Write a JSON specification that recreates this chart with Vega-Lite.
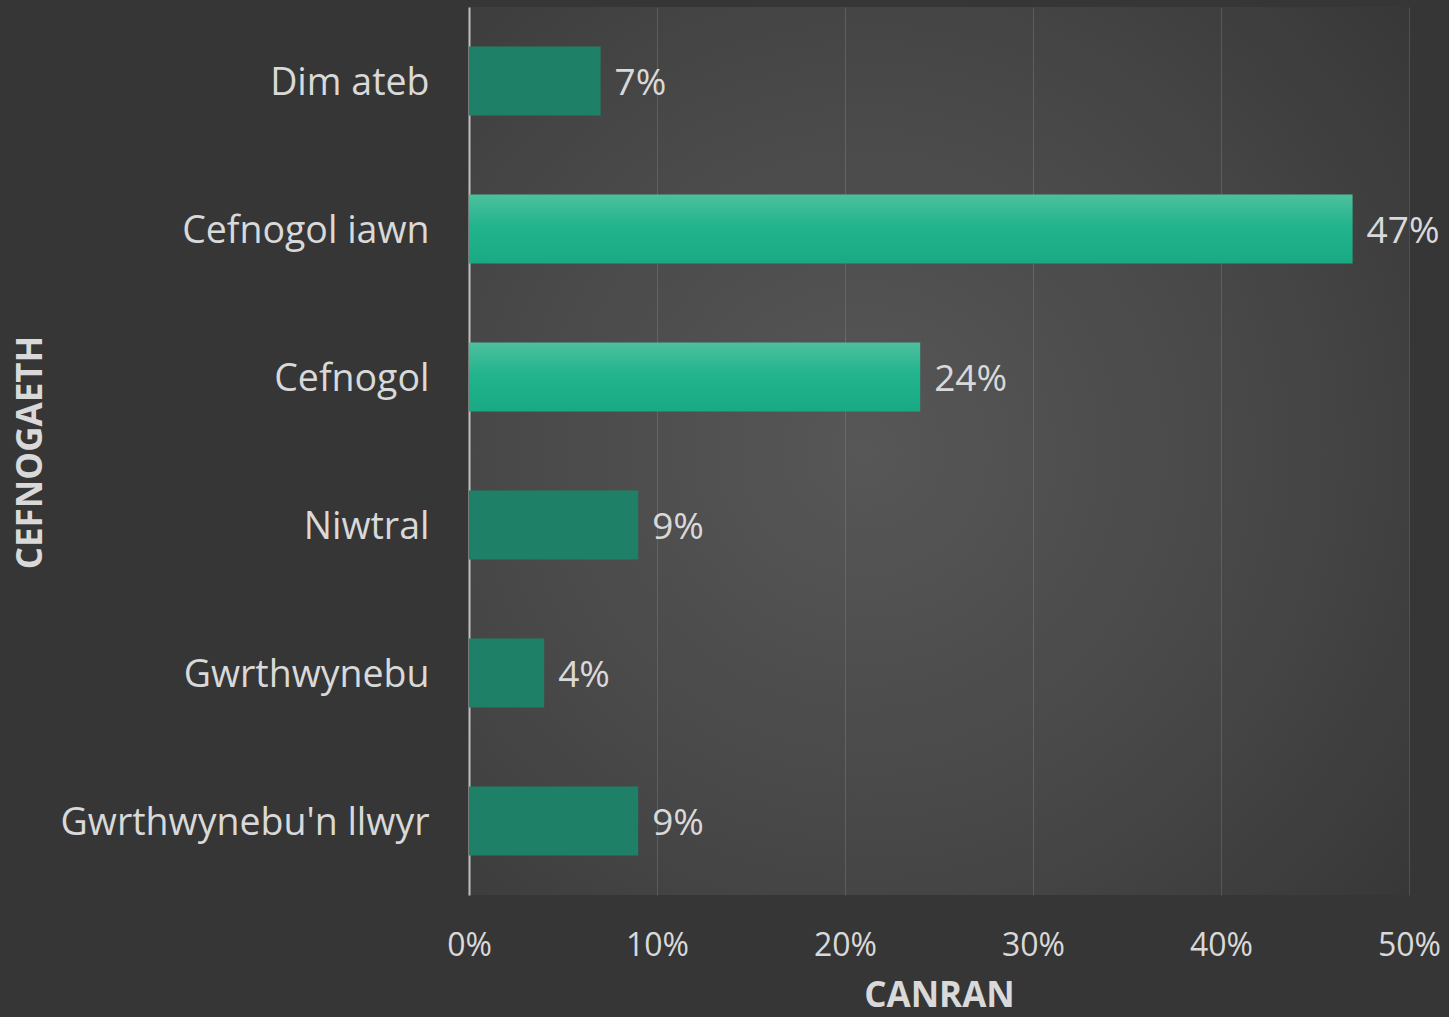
{
  "$schema": "https://vega.github.io/schema/vega-lite/v6.json",
  "width": 940,
  "height": 888,
  "autosize": {"type": "none"},
  "padding": {"left": 469, "top": 7, "right": 40, "bottom": 122},
  "background": "#363636",
  "config": {
    "font": "Open Sans",
    "view": {
      "stroke": null,
      "fill": {
        "gradient": "radial",
        "x1": 0.42, "y1": 0.5, "r1": 0,
        "x2": 0.42, "y2": 0.5, "r2": 0.78,
        "stops": [
          {"offset": 0, "color": "#575757"},
          {"offset": 0.55, "color": "#474747"},
          {"offset": 1, "color": "#363636"}
        ]
      }
    }
  },
  "data": {
    "values": [
      {"cat": "Dim ateb", "value": 0.07, "hl": false},
      {"cat": "Cefnogol iawn", "value": 0.47, "hl": true},
      {"cat": "Cefnogol", "value": 0.24, "hl": true},
      {"cat": "Niwtral", "value": 0.09, "hl": false},
      {"cat": "Gwrthwynebu", "value": 0.04, "hl": false},
      {"cat": "Gwrthwynebu'n llwyr", "value": 0.09, "hl": false}
    ]
  },
  "encoding": {
    "y": {
      "field": "cat",
      "type": "nominal",
      "sort": ["Dim ateb", "Cefnogol iawn", "Cefnogol", "Niwtral", "Gwrthwynebu", "Gwrthwynebu'n llwyr"],
      "scale": {"paddingInner": 0.534, "paddingOuter": 0.267},
      "axis": {
        "title": "CEFNOGAETH",
        "titleFont": "Open Sans",
        "titleFontSize": 35,
        "titleFontWeight": "bold",
        "titleColor": "#d9d9d9",
        "titleAngle": 270,
        "titleBaseline": "middle",
        "titleX": -439,
        "titleY": 445,
        "labelFont": "Open Sans",
        "labelFontSize": 37.5,
        "labelColor": "#d9d9d9",
        "labelPadding": 40,
        "labelOffset": 3,
        "ticks": false,
        "domain": true,
        "domainColor": "#bfbfbf",
        "domainWidth": 2,
        "grid": false,
        "labelLimit": 500
      }
    },
    "x": {
      "field": "value",
      "type": "quantitative",
      "scale": {"domain": [0, 0.5]},
      "axis": {
        "title": "CANRAN",
        "titleFont": "Open Sans",
        "titleFontSize": 35,
        "titleFontWeight": "bold",
        "titleColor": "#d9d9d9",
        "titleBaseline": "alphabetic",
        "titleY": 111,
        "format": ".0%",
        "values": [0, 0.1, 0.2, 0.3, 0.4, 0.5],
        "labelFlush": false,
        "labelFont": "Open Sans",
        "labelFontSize": 32,
        "labelColor": "#d9d9d9",
        "labelPadding": 35,
        "ticks": false,
        "domain": false,
        "grid": true,
        "gridColor": "#ffffff",
        "gridOpacity": 0.13,
        "gridWidth": 1
      }
    }
  },
  "layer": [
    {
      "transform": [{"filter": "!datum.hl"}],
      "mark": {"type": "bar", "fill": "#1f8068"}
    },
    {
      "transform": [{"filter": "datum.hl"}],
      "mark": {
        "type": "bar",
        "fill": {
          "gradient": "linear",
          "x1": 0, "y1": 0, "x2": 0, "y2": 1,
          "stops": [
            {"offset": 0, "color": "#4dc09e"},
            {"offset": 0.45, "color": "#22b48d"},
            {"offset": 1, "color": "#19aa84"}
          ]
        }
      }
    },
    {
      "mark": {
        "type": "text",
        "align": "left",
        "baseline": "middle",
        "dx": 14,
        "dy": 3,
        "font": "Open Sans",
        "fontSize": 37,
        "color": "#d9d9d9"
      },
      "encoding": {
        "text": {"field": "value", "type": "quantitative", "format": ".0%"}
      }
    }
  ]
}
